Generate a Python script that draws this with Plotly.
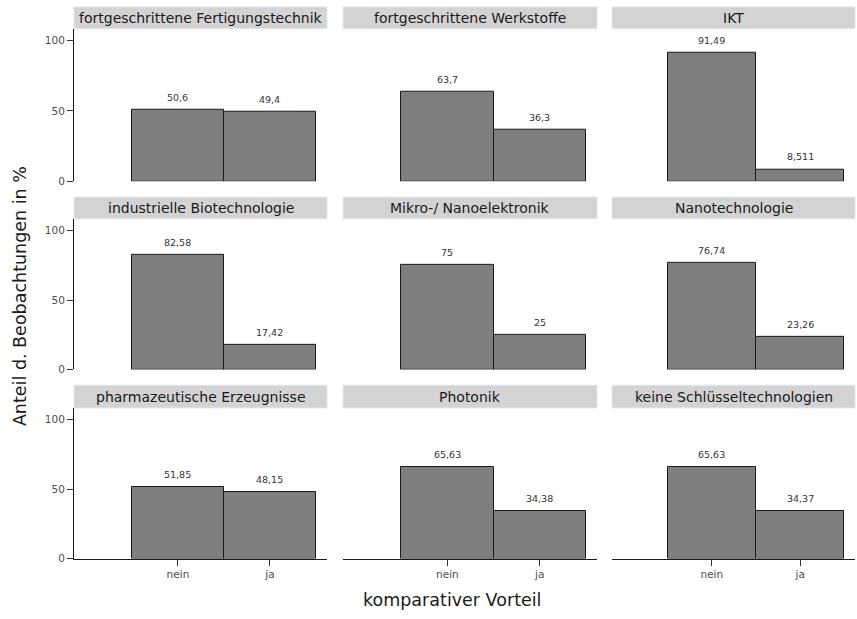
import plotly.graph_objects as go

W, H = 857, 619

panels = ["fortgeschrittene Fertigungstechnik", "fortgeschrittene Werkstoffe", "IKT",
          "industrielle Biotechnologie", "Mikro-/ Nanoelektronik", "Nanotechnologie",
          "pharmazeutische Erzeugnisse", "Photonik", "keine Schlüsseltechnologien"]
categories = ["nein", "ja"]
nein_values = [50.6, 63.7, 91.49, 82.58, 75, 76.74, 51.85, 65.63, 65.63]
ja_values = [49.4, 36.3, 8.511, 17.42, 25, 23.26, 48.15, 34.38, 34.37]
y_ticks = [0, 50, 100]

FONT = "DejaVu Sans"
col_px = [(74, 327), (343, 597), (612, 855)]
row_px = [(29, 183), (221, 373), (412, 564)]
strip_px = [(7, 29), (199, 221), (389, 412)]

def px_x(v):
    return v / W

def px_y(v):
    return 1 - v / H

fig = go.Figure()
shapes = []
annotations = []
xpos = [1, 2]

for i, name in enumerate(panels):
    r, c = divmod(i, 3)
    idx = i + 1
    xa = "x" if idx == 1 else f"x{idx}"
    ya = "y" if idx == 1 else f"y{idx}"
    vals = [nein_values[i], ja_values[i]]
    fig.add_trace(go.Bar(
        x=xpos, y=vals, width=1, xaxis=xa, yaxis=ya,
        marker=dict(color="#7f7f7f", line=dict(color="#1a1a1a", width=1)),
        showlegend=False, hoverinfo="skip"))
    for xv, v in zip(xpos, vals):
        annotations.append(dict(
            x=xv, y=v, xref=xa, yref=ya, text=f"{v:.4g}".replace(".", ","),
            showarrow=False, yanchor="bottom", yshift=5,
            font=dict(family=FONT, size=9.5, color="#333333")))
    x0, x1 = col_px[c]
    y0, y1 = row_px[r]
    fig.layout[("xaxis" if idx == 1 else f"xaxis{idx}")] = dict(
        domain=[px_x(x0), px_x(x1)], range=[-0.13, 2.62], anchor=ya,
        tickvals=xpos, ticktext=categories if r == 2 else ["", ""],
        showticklabels=(r == 2), ticks="outside" if r == 2 else "",
        ticklen=6, tickcolor="#333333", tickwidth=1,
        showline=(r == 2), linecolor="#1a1a1a", linewidth=1,
        showgrid=False, zeroline=False, fixedrange=True,
        tickfont=dict(family=FONT, size=10.5, color="#4d4d4d"))
    fig.layout[("yaxis" if idx == 1 else f"yaxis{idx}")] = dict(
        domain=[px_y(y1), px_y(y0)], range=[0, 108.5], anchor=xa,
        tickvals=y_ticks, showticklabels=(c == 0),
        ticks="outside" if c == 0 else "", ticklen=6,
        tickcolor="#333333", tickwidth=1,
        showline=(c == 0), linecolor="#1a1a1a", linewidth=1,
        showgrid=False, zeroline=False, fixedrange=True,
        tickfont=dict(family=FONT, size=10.5, color="#4d4d4d"))
    s0, s1 = strip_px[r]
    shapes.append(dict(type="rect", xref="paper", yref="paper",
                       x0=px_x(x0), x1=px_x(x1), y0=px_y(s1), y1=px_y(s0),
                       fillcolor="#d3d3d3", line=dict(color="#dde9f0", width=1),
                       layer="below"))
    annotations.append(dict(
        x=px_x((x0 + x1) / 2), y=px_y((s0 + s1) / 2), xref="paper", yref="paper",
        text=name, showarrow=False, xanchor="center", yanchor="middle",
        font=dict(family=FONT, size=14, color="#1a1a1a")))

annotations.append(dict(
    x=px_x(452), y=px_y(606), xref="paper", yref="paper",
    text="komparativer Vorteil", showarrow=False, xanchor="center", yanchor="middle",
    font=dict(family=FONT, size=17.5, color="#1a1a1a")))
annotations.append(dict(
    x=px_x(20), y=px_y(299), xref="paper", yref="paper",
    text="Anteil d. Beobachtungen in %", showarrow=False, textangle=-90,
    xanchor="center", yanchor="middle",
    font=dict(family=FONT, size=17.5, color="#1a1a1a")))

fig.update_layout(
    width=W, height=H, margin=dict(l=0, r=0, t=0, b=0),
    paper_bgcolor="white", plot_bgcolor="white",
    shapes=shapes, annotations=annotations, bargap=0,
    font=dict(family=FONT))

fig.write_html("out.html", config={"displayModeBar": False},
               post_script="document.body.style.margin='0';document.body.style.overflow='hidden';")
